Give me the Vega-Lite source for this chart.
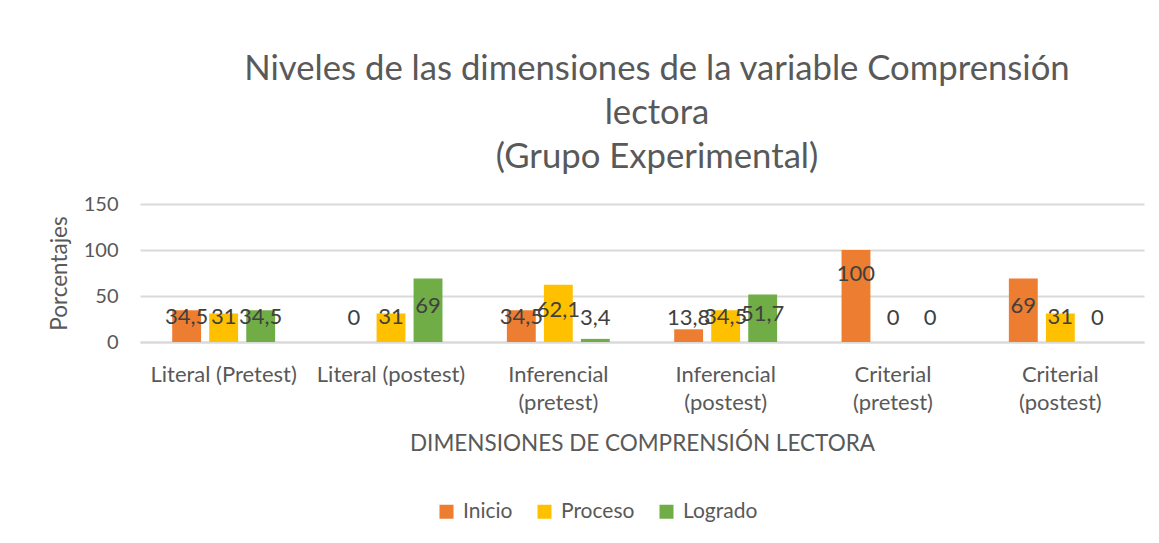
{
  "$schema": "https://vega.github.io/schema/vega-lite/v6.json",
  "width": 1004,
  "height": 138,
  "padding": {"left": 48, "top": 52, "right": 10, "bottom": 5},
  "background": "white",
  "title": {
    "text": ["Niveles de las dimensiones de la variable Comprensión", "lectora", "(Grupo Experimental)"],
    "fontSize": 34.7,
    "font": "Lato",
    "fontWeight": "normal",
    "color": "#595959",
    "lineHeight": 44,
    "offset": 18,
    "dx": 15,
    "anchor": "middle"
  },
  "data": {
    "values": [
      {"dim": "Literal (Pretest)", "nivel": "Inicio", "valor": 34.5, "etiqueta": "34,5"},
      {"dim": "Literal (Pretest)", "nivel": "Proceso", "valor": 31, "etiqueta": "31"},
      {"dim": "Literal (Pretest)", "nivel": "Logrado", "valor": 34.5, "etiqueta": "34,5"},
      {"dim": "Literal (postest)", "nivel": "Inicio", "valor": 0, "etiqueta": "0"},
      {"dim": "Literal (postest)", "nivel": "Proceso", "valor": 31, "etiqueta": "31"},
      {"dim": "Literal (postest)", "nivel": "Logrado", "valor": 69, "etiqueta": "69"},
      {"dim": "Inferencial (pretest)", "nivel": "Inicio", "valor": 34.5, "etiqueta": "34,5"},
      {"dim": "Inferencial (pretest)", "nivel": "Proceso", "valor": 62.1, "etiqueta": "62,1"},
      {"dim": "Inferencial (pretest)", "nivel": "Logrado", "valor": 3.4, "etiqueta": "3,4"},
      {"dim": "Inferencial (postest)", "nivel": "Inicio", "valor": 13.8, "etiqueta": "13,8"},
      {"dim": "Inferencial (postest)", "nivel": "Proceso", "valor": 34.5, "etiqueta": "34,5"},
      {"dim": "Inferencial (postest)", "nivel": "Logrado", "valor": 51.7, "etiqueta": "51,7"},
      {"dim": "Criterial (pretest)", "nivel": "Inicio", "valor": 100, "etiqueta": "100"},
      {"dim": "Criterial (pretest)", "nivel": "Proceso", "valor": 0, "etiqueta": "0"},
      {"dim": "Criterial (pretest)", "nivel": "Logrado", "valor": 0, "etiqueta": "0"},
      {"dim": "Criterial (postest)", "nivel": "Inicio", "valor": 69, "etiqueta": "69"},
      {"dim": "Criterial (postest)", "nivel": "Proceso", "valor": 31, "etiqueta": "31"},
      {"dim": "Criterial (postest)", "nivel": "Logrado", "valor": 0, "etiqueta": "0"}
    ]
  },
  "encoding": {
    "x": {
      "field": "dim",
      "type": "nominal",
      "sort": null,
      "scale": {"paddingInner": 0, "paddingOuter": 0},
      "axis": {
        "title": "DIMENSIONES DE COMPRENSIÓN LECTORA",
        "labelAngle": 0,
        "labelExpr": "test(/^Literal/, datum.label) ? datum.label : split(datum.label, ' ')",
        "labelLineHeight": 28,
        "labelPadding": 22,
        "titlePadding": 19,
        "ticks": false,
        "domainColor": "#D9D9D9",
        "domainWidth": 2
      }
    },
    "xOffset": {
      "field": "nivel",
      "type": "nominal",
      "sort": ["Inicio", "Proceso", "Logrado"],
      "scale": {"paddingInner": 0.22, "paddingOuter": 0.87}
    }
  },
  "layer": [
    {
      "mark": {"type": "bar"},
      "encoding": {
        "y": {
          "field": "valor",
          "type": "quantitative",
          "scale": {"domain": [0, 150]},
          "axis": {
            "title": "Porcentajes",
            "values": [0, 50, 100, 150],
            "ticks": false,
            "domain": false,
            "gridColor": "#D9D9D9",
            "gridWidth": 2,
            "labelPadding": 22,
            "labelFontSize": 20,
            "titlePadding": 12
          }
        },
        "color": {
          "field": "nivel",
          "type": "nominal",
          "sort": ["Inicio", "Proceso", "Logrado"],
          "scale": {"domain": ["Inicio", "Proceso", "Logrado"], "range": ["#ED7D31", "#FFC000", "#70AD47"]},
          "legend": {
            "title": null,
            "orient": "none",
            "legendX": 296,
            "legendY": 297,
            "direction": "horizontal",
            "symbolType": "square",
            "symbolSize": 196,
            "symbolStrokeWidth": 0,
            "labelOffset": 6,
            "columnPadding": 21
          }
        }
      }
    },
    {
      "mark": {"type": "text", "fontSize": 22, "color": "#404040", "font": "Lato"},
      "encoding": {
        "y": {
          "field": "valor",
          "type": "quantitative",
          "scale": {"type": "pow", "exponent": 3.5, "domain": [0, 100], "range": [114, 70]},
          "axis": null
        },
        "text": {"field": "etiqueta"}
      }
    }
  ],
  "resolve": {"scale": {"y": "independent"}},
  "config": {
    "font": "Lato",
    "view": {"stroke": null},
    "axis": {
      "labelFont": "Lato",
      "titleFont": "Lato",
      "labelFontSize": 22,
      "titleFontSize": 22.5,
      "labelColor": "#595959",
      "titleColor": "#595959",
      "titleFontWeight": "normal"
    },
    "legend": {
      "labelFont": "Lato",
      "labelFontSize": 21,
      "labelColor": "#595959"
    }
  }
}
